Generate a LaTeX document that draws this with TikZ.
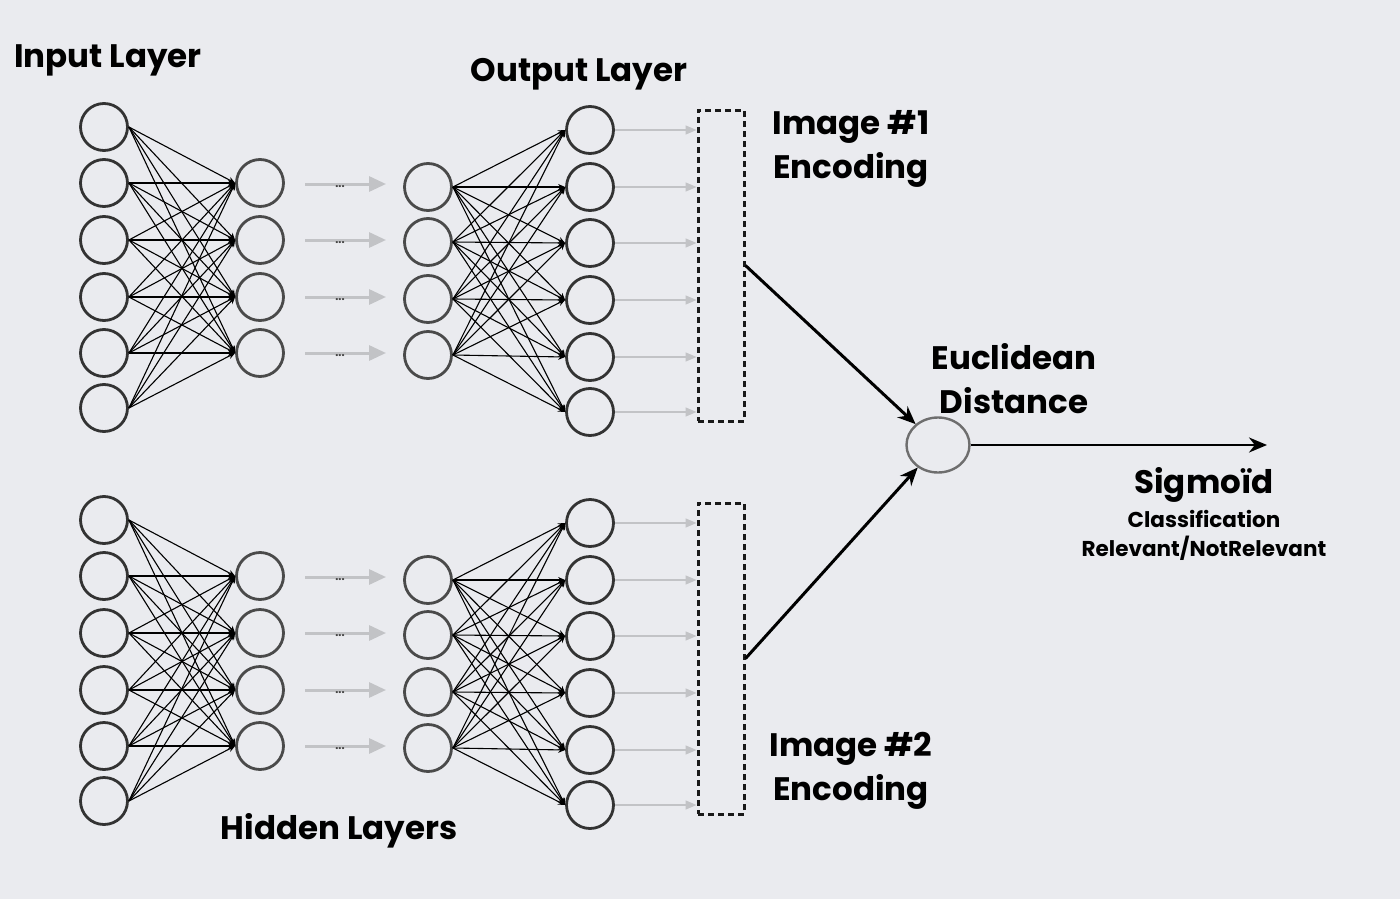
\documentclass[tikz,border=0pt]{standalone}
\usepackage{fontspec}
\setmainfont{Poppins}
\usetikzlibrary{arrows.meta,calc,shapes.geometric}
\definecolor{bg}{HTML}{EAEBEF}
\definecolor{ring}{HTML}{333333}
\definecolor{ringb}{HTML}{4A4A4A}
\definecolor{garrow}{HTML}{C2C3C6}
\definecolor{distring}{HTML}{6E6E6E}
\begin{document}
\begin{tikzpicture}[x=1pt,y=-1pt,
  neuron/.style={circle,draw=ring,line width=2.8pt,minimum size=47pt,inner sep=0pt},
  neuronb/.style={neuron,draw=ringb},
  edge/.style={line width=1.1pt,black,-{Stealth[length=7pt,width=6pt]}},
  grayarr/.style={line width=3pt,draw=garrow,-{Triangle[length=17pt,width=15pt,fill=garrow]}},
  thinarr/.style={line width=1.4pt,draw=garrow,-{Triangle[length=11pt,width=9pt,fill=garrow]}},
  encbox/.style={draw=black!90,line width=3pt,dash pattern=on 6pt off 4pt,minimum width=46pt,minimum height=311pt,inner sep=0pt},
  bigarr/.style={line width=3pt,black,-{Stealth[length=18pt,width=15pt]}},
  lbl/.style={font=\bfseries\fontsize{32.5}{44}\selectfont,text=black,align=center,inner sep=0pt},
  sub/.style={font=\bfseries\fontsize{21.5}{29}\selectfont,text=black,align=center,inner sep=0pt},
  dots/.style={font=\bfseries\fontsize{11}{11}\selectfont,text=black!75,inner sep=0pt}
]
\useasboundingbox[fill=bg] (0,0) rectangle (1400,899);

\foreach \n in {0,1}{
  \pgfmathsetmacro{\d}{\n*393}
  % input layer
  \foreach \y [count=\i] in {127,183,240,297,353,408}
    \node[neuron] (in-\n-\i) at (104,\y+\d) {};
  % hidden 1
  \foreach \y [count=\i] in {183,240,297,353}
    \node[neuronb] (ha-\n-\i) at (260,\y+\d) {};
  % hidden 2
  \foreach \y [count=\i] in {187,242,299,355}
    \node[neuronb] (hb-\n-\i) at (428,\y+\d) {};
  % output
  \foreach \y [count=\i] in {130,187,243,300,357,412}
    \node[neuron] (out-\n-\i) at (590,\y+\d) {};
  % encoding box
  \node[encbox] (enc-\n) at (721,265.5+\d) {};
  % edges input -> hidden1
  \foreach \i in {1,...,6}
    \foreach \j in {1,...,4}
      \draw[edge] (in-\n-\i.east) -- (ha-\n-\j.west);
  % edges hidden2 -> output
  \foreach \i in {1,...,4}
    \foreach \j in {1,...,6}
      \draw[edge] (hb-\n-\i.east) -- (out-\n-\j.west);
  % gray arrows between hidden layers
  \foreach \y [count=\j] in {184,240,297,353}{
    \coordinate (gs-\n-\j) at (305,\y+\d);
    \coordinate (ge-\n-\j) at (386,\y+\d);
    \draw[grayarr] (gs-\n-\j) -- (ge-\n-\j);
    \node[dots] (dt-\n-\j) at (340,\y+\d+3) {...};
  }
  % thin gray arrows output -> encoding
  \foreach \j in {1,...,6}{
    \coordinate (ee-\n-\j) at (enc-\n.west |- out-\n-\j);
    \draw[thinarr] (out-\n-\j.east) -- (ee-\n-\j);
  }
}

% Euclidean distance node
\node[ellipse,draw=distring,line width=2.4pt,minimum width=63pt,minimum height=55pt,inner sep=0pt] (dist) at (938,445) {};
\draw[bigarr] (enc-0.east) -- (dist);
\draw[bigarr] (enc-1.east) -- (dist);
\coordinate (outend) at (1267,445);
\draw[bigarr,line width=2.6pt] (dist.east) -- (outend);

% labels
\node[lbl] (l-in) at (108,60) {Input Layer};
\node[lbl] (l-out) at (579,74) {Output Layer};
\node[lbl] (l-hid) at (339,831) {Hidden Layers};
\node[lbl] (l-enc1) at (851,149) {Image \#1\\Encoding};
\node[lbl] (l-enc2) at (851,771) {Image \#2\\Encoding};
\node[lbl] (l-dist) at (1014,379) {Euclidean\\Distance};
\node[lbl] (l-sig) at (1204,485) {Sigmoïd};
\node[sub] (l-cls) at (1204,535) {Classification\\Relevant/NotRelevant};
\end{tikzpicture}
\end{document}
